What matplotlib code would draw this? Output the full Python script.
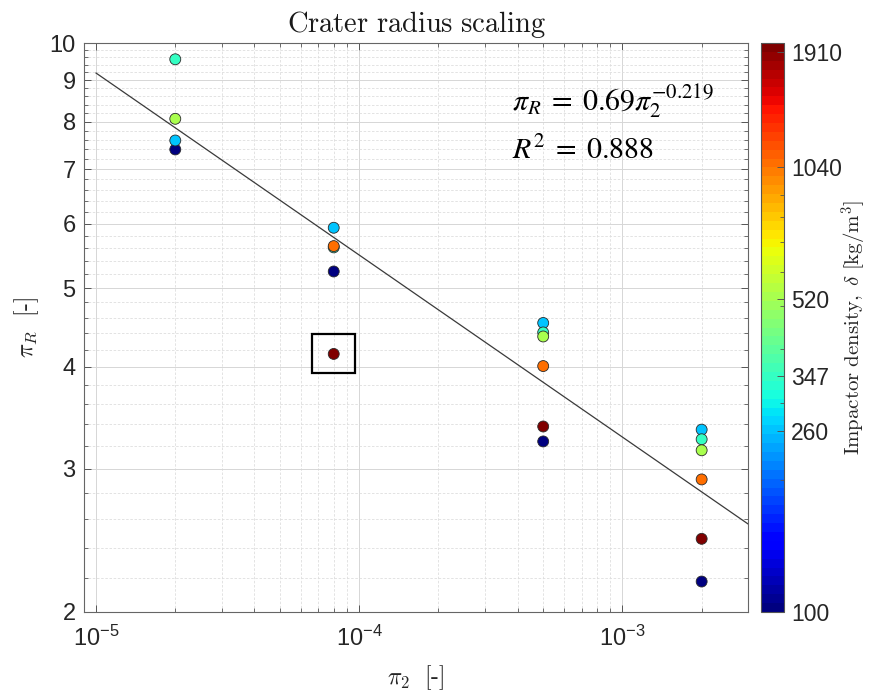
import numpy as np
import matplotlib
matplotlib.use("Agg")
import matplotlib.pyplot as plt
from matplotlib.colors import LogNorm
from matplotlib.ticker import FixedLocator, FixedFormatter, LogLocator, NullFormatter
from matplotlib.patches import Rectangle
from matplotlib.transforms import IdentityTransform, ScaledTranslation

plt.rcParams.update({
    "font.family": ["Liberation Sans", "DejaVu Sans"],
    "mathtext.fontset": "custom",
    "mathtext.rm": "Liberation Sans",
    "mathtext.it": "Liberation Sans:italic",
    "mathtext.bf": "Liberation Sans:bold",
})

# ---------------- data ----------------
pi2 = [2e-5, 2e-5, 2e-5, 2e-5,
       8e-5, 8e-5, 8e-5, 8e-5, 8e-5,
       5e-4, 5e-4, 5e-4, 5e-4, 5e-4, 5e-4,
       2e-3, 2e-3, 2e-3, 2e-3, 2e-3, 2e-3]
piR = [7.40, 7.59, 9.55, 8.07,
       5.24, 5.93, 5.61, 5.63, 4.15,
       3.24, 4.53, 4.41, 4.36, 4.01, 3.38,
       2.18, 3.35, 3.26, 3.16, 2.91, 2.46]
density = [100, 260, 347, 520,
           100, 260, 347, 1040, 1910,
           100, 260, 347, 520, 1040, 1910,
           100, 260, 347, 520, 1040, 1910]
highlight_index = 8  # boxed point

cbar_ticks = [100, 260, 347, 520, 1040, 1910]
cbar_labels = ["100", "260", "347", "520", "1040", "1910"]
density_range = (100, 2000)

x_ticks = [1e-5, 1e-4, 1e-3]
x_ticklabels = [r"$\mathregular{10^{-5}}$", r"$\mathregular{10^{-4}}$", r"$\mathregular{10^{-3}}$"]
y_ticks = [2, 3, 4, 5, 6, 7, 8, 9, 10]
y_ticklabels = ["2", "3", "4", "5", "6", "7", "8", "9", "10"]
y_minor = [2.2, 2.4, 2.6, 2.8, 3.2, 3.4, 3.6, 3.8, 4.2, 4.4, 4.6, 4.8,
           5.2, 5.4, 5.6, 5.8, 6.2, 6.4, 6.6, 6.8, 7.2, 7.4, 7.6, 7.8,
           8.2, 8.4, 8.6, 8.8, 9.2, 9.4, 9.6, 9.8]

fit_coef = 0.70
fit_exp = -0.2236
fit_range = (1e-5, 3e-3)

# ---------------- figure ----------------
W, H = 870, 695
fig = plt.figure(figsize=(W / 100, H / 100), dpi=100)
ax = fig.add_axes([84 / W, (H - 612) / H, (748 - 84) / W, (612 - 43) / H])
cax = fig.add_axes([761 / W, (H - 612) / H, (784 - 761) / W, (612 - 43) / H])

cmap = plt.get_cmap("jet", 64)
norm = LogNorm(*density_range)

order = np.argsort(density, kind="stable")
xs = np.array(pi2)[order]
ys = np.array(piR)[order]
cs = np.array(density)[order]

ax.set_xscale("log")
ax.set_yscale("log")
ax.set_xlim(9e-6, 3e-3)
ax.set_ylim(2, 10)

# fit line
xf = np.logspace(np.log10(fit_range[0]), np.log10(fit_range[1]), 100)
ax.plot(xf, fit_coef * xf ** fit_exp, color="#3a3a3a", lw=0.9, zorder=2)

sc = ax.scatter(xs, ys, c=cs, cmap=cmap, norm=norm, s=62,
                edgecolors="#2a2a2a", linewidths=0.6, zorder=3)

# highlight box around a point (pixel-sized box centered on the data point)
hx, hy = pi2[highlight_index], piR[highlight_index]
box_trans = IdentityTransform() + ScaledTranslation(hx, hy, ax.transData)
ax.add_patch(Rectangle((-21.5, -19.5), 43, 39, transform=box_trans,
                       fill=False, edgecolor="black", lw=1.6, zorder=4))

# ticks & grid
ax.xaxis.set_major_locator(FixedLocator(x_ticks))
ax.xaxis.set_major_formatter(FixedFormatter(x_ticklabels))
ax.xaxis.set_minor_locator(LogLocator(base=10, subs=np.arange(2, 10)))
ax.xaxis.set_minor_formatter(NullFormatter())
ax.yaxis.set_major_locator(FixedLocator(y_ticks))
ax.yaxis.set_major_formatter(FixedFormatter(y_ticklabels))
ax.yaxis.set_minor_locator(FixedLocator(y_minor))
ax.yaxis.set_minor_formatter(NullFormatter())

ax.tick_params(which="both", direction="in", top=True, right=True,
               colors="#555555", labelcolor="#262626", labelsize=17)
ax.tick_params(which="major", length=5, width=0.7)
ax.tick_params(which="minor", length=3, width=0.6)
ax.tick_params(axis="x", which="major", pad=10)
ax.tick_params(axis="y", which="major", pad=6)

ax.grid(True, which="major", color="#d6d6d6", lw=0.7, ls="-", zorder=0)
ax.grid(True, which="minor", color="#dedede", lw=0.6, ls=(0, (3, 2)), zorder=0)
ax.set_axisbelow(True)
for sp in ax.spines.values():
    sp.set_color("#666666")
    sp.set_linewidth(0.8)

ax.set_title(r"$\mathrm{Crater\ radius\ scaling}$", math_fontfamily="cm",
             fontsize=20.5, pad=8, color="#1a1a1a")
ax.set_xlabel(r"$\pi_2\ \ [\text{-}]$", math_fontfamily="cm", fontsize=17,
              labelpad=9, color="#262626")
ax.set_ylabel(r"$\pi_R\ \ [\text{-}]$", math_fontfamily="cm", fontsize=17,
              labelpad=6, color="#262626")

ax.text(0.644, 0.881, r"$\pi_R\;=\;0.69\pi_2^{-0.219}$", transform=ax.transAxes,
        math_fontfamily="stix", fontsize=21.5, va="baseline", ha="left", color="black")
ax.text(0.644, 0.797, r"$R^2\;=\;0.888$", transform=ax.transAxes,
        math_fontfamily="stix", fontsize=21.5, va="baseline", ha="left", color="black")

# colorbar
cb = fig.colorbar(sc, cax=cax)
cb.set_ticks(cbar_ticks)
cb.set_ticklabels(cbar_labels)
cax.yaxis.set_minor_locator(LogLocator(base=10, subs=np.arange(2, 10)))
cax.yaxis.set_minor_formatter(NullFormatter())
cax.tick_params(which="both", direction="in", colors="#555555",
                labelcolor="#262626", labelsize=16.5)
cax.tick_params(which="major", length=5, width=0.7, pad=5)
cax.tick_params(which="minor", length=3, width=0.6)
cb.outline.set_edgecolor("#555555")
cb.outline.set_linewidth(0.8)
fig.text(854 / W, (H - 327) / H,
         r"$\mathrm{Impactor\ density,}\ \delta\ [\mathrm{kg/m}^3]$",
         math_fontfamily="cm", fontsize=15, rotation=90, ha="center", va="center",
         color="#262626")

fig.savefig("out.png", dpi=100)
